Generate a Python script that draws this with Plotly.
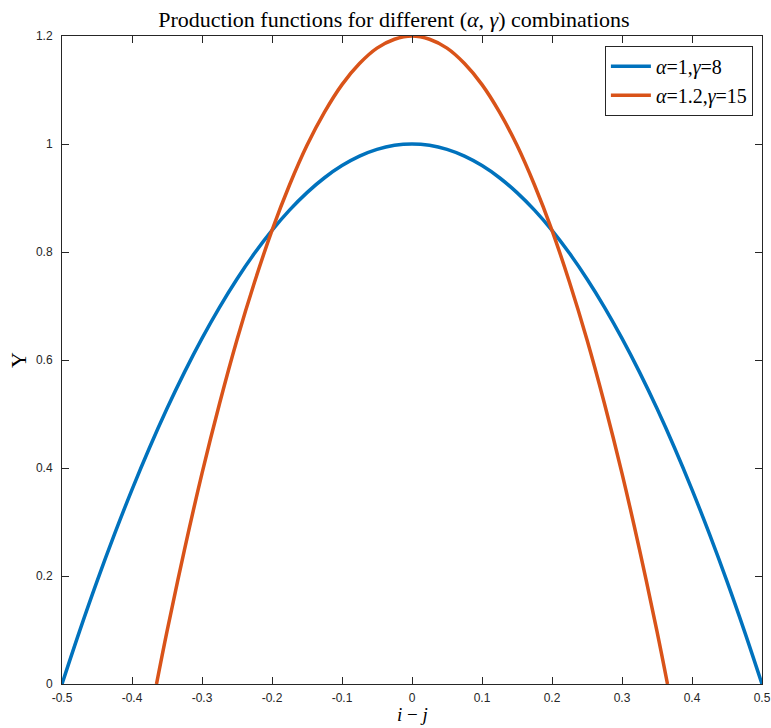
import plotly.graph_objects as go

x_blue = [-0.5, -0.475, -0.45, -0.425, -0.4, -0.375, -0.35, -0.325, -0.3, -0.275, -0.25,
          -0.225, -0.2, -0.175, -0.15, -0.125, -0.1, -0.075, -0.05, -0.025, 0.0,
          0.025, 0.05, 0.075, 0.1, 0.125, 0.15, 0.175, 0.2, 0.225, 0.25,
          0.275, 0.3, 0.325, 0.35, 0.375, 0.4, 0.425, 0.45, 0.475, 0.5]
y_blue = [0.0, 0.0975, 0.19, 0.2775, 0.36, 0.4375, 0.51, 0.5775, 0.64, 0.6975, 0.75,
          0.7975, 0.84, 0.8775, 0.91, 0.9375, 0.96, 0.9775, 0.99, 0.9975, 1.0,
          0.9975, 0.99, 0.9775, 0.96, 0.9375, 0.91, 0.8775, 0.84, 0.7975, 0.75,
          0.6975, 0.64, 0.5775, 0.51, 0.4375, 0.36, 0.2775, 0.19, 0.0975, 0.0]

x_orange = [-0.365, -0.35, -0.325, -0.3, -0.275, -0.25, -0.225, -0.2, -0.175, -0.15, -0.125,
            -0.1, -0.075, -0.05, -0.025, 0.0,
            0.025, 0.05, 0.075, 0.1, 0.125, 0.15, 0.175, 0.2, 0.225, 0.25,
            0.275, 0.3, 0.325, 0.35, 0.365]
y_orange = [0.0, 0.0975, 0.249, 0.39, 0.519, 0.6375, 0.744, 0.84, 0.924, 0.9975, 1.059,
            1.11, 1.149, 1.1775, 1.194, 1.2,
            1.194, 1.1775, 1.149, 1.11, 1.059, 0.9975, 0.924, 0.84, 0.744, 0.6375,
            0.519, 0.39, 0.249, 0.0975, 0.0]

x_ticks = [-0.5, -0.4, -0.3, -0.2, -0.1, 0, 0.1, 0.2, 0.3, 0.4, 0.5]
x_ticklabels = ["-0.5", "-0.4", "-0.3", "-0.2", "-0.1", "0", "0.1", "0.2", "0.3", "0.4", "0.5"]
y_ticks = [0, 0.2, 0.4, 0.6, 0.8, 1.0, 1.2]
y_ticklabels = ["0", "0.2", "0.4", "0.6", "0.8", "1", "1.2"]

serif = "Liberation Serif, DejaVu Serif, serif"
sans = "Liberation Sans, Arial, sans-serif"

fig = go.Figure()
fig.add_trace(go.Scatter(x=x_blue, y=y_blue, mode="lines",
                         line=dict(color="#0072BD", width=3.5, shape="spline", smoothing=1.0),
                         name="<i>α</i>=1,<i>γ</i>=8"))
fig.add_trace(go.Scatter(x=x_orange, y=y_orange, mode="lines",
                         line=dict(color="#D95319", width=3.5, shape="spline", smoothing=1.0),
                         name="<i>α</i>=1.2,<i>γ</i>=15"))

axis_common = dict(showgrid=False, zeroline=False, showline=True, linecolor="#262626",
                   linewidth=1, mirror="ticks", ticks="inside", ticklen=7,
                   tickcolor="#262626", automargin=False, ticklabeloverflow="allow",
                   tickfont=dict(family=sans, size=12, color="#262626"))

fig.update_layout(
    width=771, height=728,
    margin=dict(l=62, r=9, t=36, b=44),
    paper_bgcolor="white", plot_bgcolor="white",
    title=dict(text="Production functions for different (<i>α</i>, <i>γ</i>) combinations",
               font=dict(family=serif, size=22, color="black"),
               x=0.511, xanchor="center", y=0.974, yanchor="middle"),
    xaxis=dict(range=[-0.5, 0.5], tickvals=x_ticks, ticktext=x_ticklabels,
               ticklabelstandoff=3, **axis_common),
    yaxis=dict(range=[0, 1.2], tickvals=y_ticks, ticktext=y_ticklabels,
               ticklabelstandoff=6, **axis_common),
    legend=dict(x=0.987, y=0.985, xanchor="right", yanchor="top",
                bgcolor="white", bordercolor="#262626", borderwidth=1,
                font=dict(family=serif, size=20, color="black"),
                itemwidth=40, tracegroupgap=0),
    showlegend=True,
    annotations=[
        dict(text="<i>i</i> − <i>j</i>", xref="paper", yref="paper", x=0.5, y=-0.0475,
             xanchor="center", yanchor="middle", showarrow=False,
             font=dict(family=serif, size=19, color="black")),
        dict(text="Y", xref="paper", yref="paper", x=-0.063, y=0.5,
             xanchor="center", yanchor="middle", showarrow=False, textangle=-90,
             font=dict(family=serif, size=22, color="black")),
    ],
)

fig.write_html("out.html")
